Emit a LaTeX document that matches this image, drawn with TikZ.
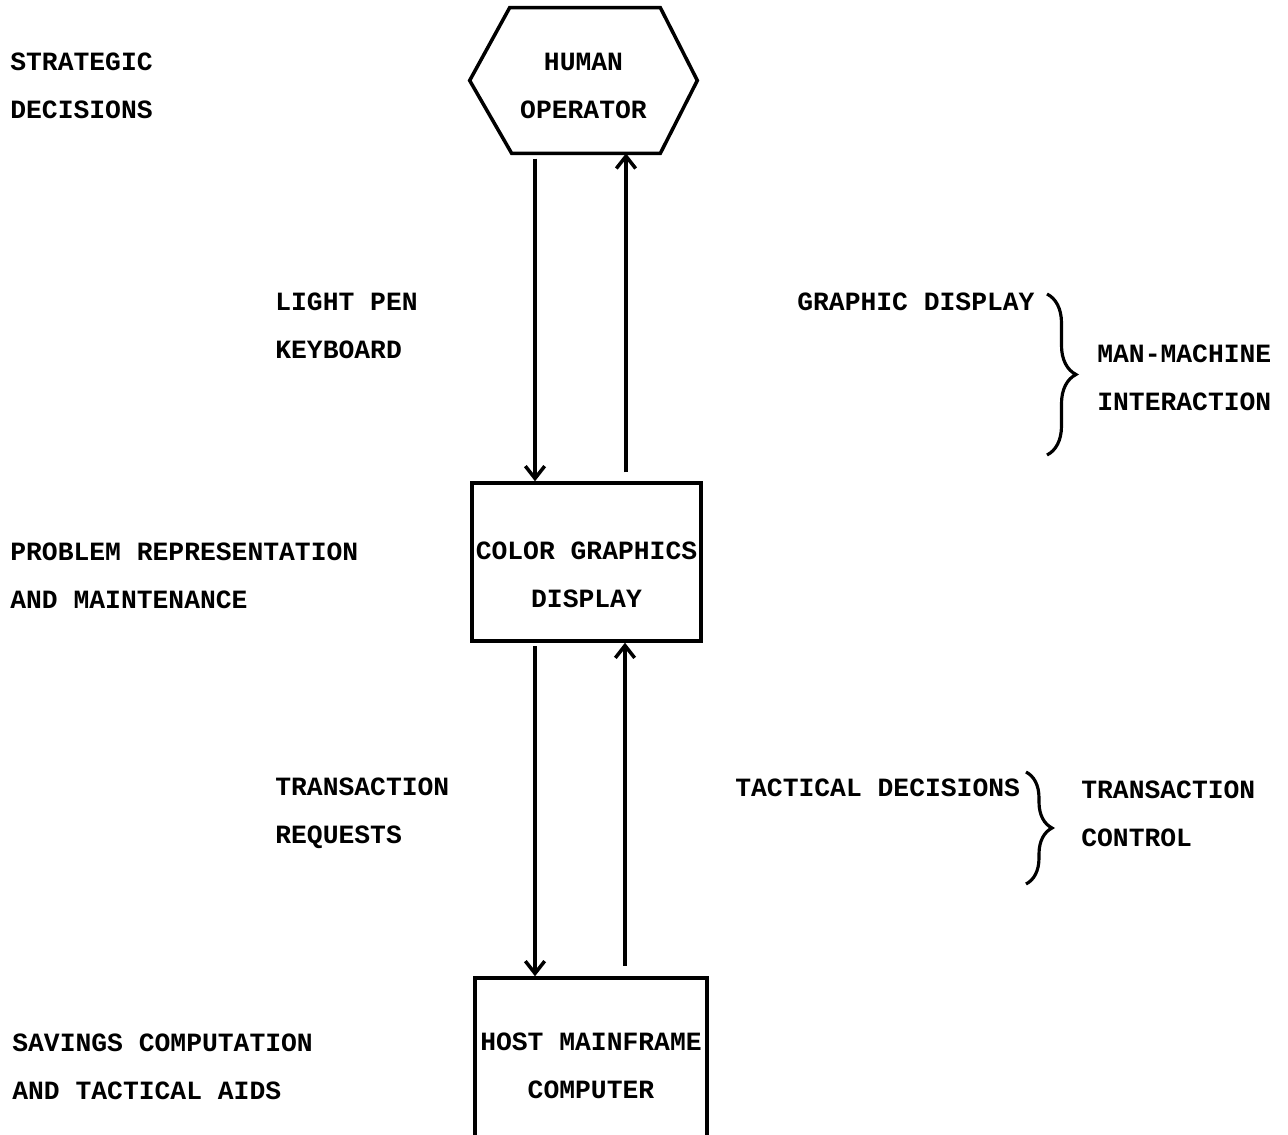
\documentclass[tikz,border=0pt]{standalone}
\usepackage{fontspec}
\newfontfamily\typefont{Liberation Mono}
\usetikzlibrary{positioning,calc,arrows.meta,decorations.pathreplacing}

\begin{document}
\begin{tikzpicture}[x=0.02cm,y=-0.02cm,
  every node/.style={font=\typefont\bfseries\fontsize{15}{27.2}\selectfont, inner sep=0pt, align=left},
  unit/.style={draw, line width=2pt, align=center},
  flow/.style={line width=2pt, -{Straight Barb[length=7pt,width=11pt]}},
  group/.style={line width=1.8pt, decorate}]
\useasboundingbox (0,0) rectangle (1288,1135);
% Units
\node[minimum width=4.54cm, minimum height=2.9cm] (op) at (583.5,80.5) {};
\draw[line width=2pt] (op.west) -- ([xshift=0.8cm]op.north west) -- ([xshift=-0.74cm]op.north east)
  -- (op.east) -- ([xshift=-0.74cm]op.south east) -- ([xshift=0.84cm]op.south west) -- cycle;
\node[align=center] (optext) at (583.5,86) {HUMAN\\OPERATOR};
\node[unit, minimum width=4.58cm, minimum height=3.16cm] (cgd) at (586.5,562) {};
\node[align=center] (cgdtext) at (586.5,575) {COLOR GRAPHICS\\DISPLAY};
\node[unit, minimum width=4.64cm, minimum height=3.52cm] (host) at (591,1066) {HOST MAINFRAME\\COMPUTER};
% Flows
\draw[flow, shorten <=3pt] ([xshift=-0.97cm]op.south) -- ([xshift=-0.97cm]op.south |- cgd.north);
\draw[flow, shorten <=5pt] ([xshift=0.85cm]op.south |- cgd.north) -- ([xshift=0.85cm]op.south);
\draw[flow, shorten <=2pt] ([xshift=-1.03cm]cgd.south) -- ([xshift=-1.03cm]cgd.south |- host.north);
\draw[flow, shorten <=6pt] ([xshift=0.77cm]cgd.south |- host.north) -- ([xshift=0.77cm]cgd.south);
% Left column
\node[anchor=west] (strat) at (10,86) {STRATEGIC\\DECISIONS};
\node[anchor=west] (prob) at (10,576) {PROBLEM REPRESENTATION\\AND MAINTENANCE};
\node[anchor=west] (save) at (12,1067) {SAVINGS COMPUTATION\\AND TACTICAL AIDS};
% Flow labels
\node[anchor=west] (pen) at (275,326) {LIGHT PEN\\KEYBOARD};
\node[anchor=west] (req) at (275,813) {TRANSACTION\\REQUESTS};
\node[anchor=west] (gdisp) at (797,302) {GRAPHIC DISPLAY};
\node[anchor=west] (tact) at (735,788) {TACTICAL DECISIONS};
% Groups
\draw[group, decoration={brace, amplitude=0.58cm}] (1047,294) -- (1047,455);
\node[anchor=west] (mmi) at (1097,378) {MAN-MACHINE\\INTERACTION};
\draw[group, decoration={brace, amplitude=0.52cm}] (1026,772) -- (1026,884);
\node[anchor=west] (ctl) at (1081,814) {TRANSACTION\\CONTROL};
\end{tikzpicture}
\end{document}
